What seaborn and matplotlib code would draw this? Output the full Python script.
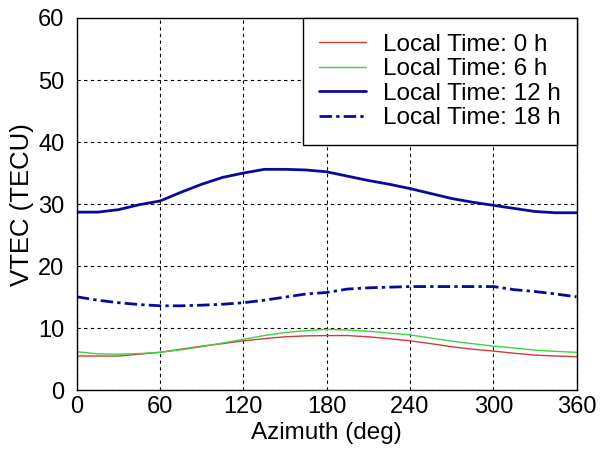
import numpy as np
import pandas as pd
import matplotlib
matplotlib.use("Agg")
import matplotlib.pyplot as plt
import seaborn as sns

sns.set_theme(style="white")
plt.rcParams['font.family'] = ['Liberation Sans', 'DejaVu Sans']
plt.rcParams['text.color'] = 'black'
plt.rcParams['axes.labelcolor'] = 'black'

# azimuth in degrees, VTEC (TECU)
azimuth = [0, 15, 30, 45, 60, 75, 90, 105, 120, 135, 150, 165, 180,
           195, 210, 225, 240, 255, 270, 285, 300, 315, 330, 345, 360]
vtec_lt0 = [5.5, 5.5, 5.5, 5.8, 6.1, 6.6, 7.1, 7.5, 7.95, 8.3, 8.6, 8.75, 8.8,
            8.8, 8.6, 8.3, 7.95, 7.5, 7.0, 6.6, 6.3, 5.95, 5.65, 5.5, 5.4]
vtec_lt6 = [6.2, 5.85, 5.8, 5.9, 6.1, 6.5, 7.0, 7.6, 8.2, 8.8, 9.3, 9.6, 9.8,
            9.7, 9.5, 9.2, 8.9, 8.4, 7.9, 7.5, 7.1, 6.8, 6.45, 6.25, 6.1]
vtec_lt12 = [28.7, 28.7, 29.1, 29.9, 30.5, 31.9, 33.2, 34.3, 35.0, 35.6, 35.6, 35.5, 35.2,
             34.5, 33.8, 33.2, 32.5, 31.7, 30.9, 30.3, 29.8, 29.3, 28.8, 28.6, 28.6]
vtec_lt18 = [15.05, 14.5, 14.1, 13.8, 13.6, 13.6, 13.7, 13.85, 14.1, 14.5, 15.0, 15.5, 15.75,
             16.3, 16.5, 16.6, 16.7, 16.7, 16.7, 16.7, 16.7, 16.2, 15.9, 15.5, 15.05]

labels = ['Local Time: 0 h', 'Local Time: 6 h', 'Local Time: 12 h', 'Local Time: 18 h']
series = [vtec_lt0, vtec_lt6, vtec_lt12, vtec_lt18]
colors = ['#d03a3a', '#3fd33f', '#0a0a9a', '#0a0a9a']
widths = [1.0, 1.0, 2.0, 2.0]
styles = ['-', '-', '-', (0, (4.5, 1.5, 1.2, 1.5))]

fig = plt.figure(figsize=(6, 4.5), dpi=100)
ax = fig.add_axes([0.128, 0.133, 0.833, 0.827])

for lab, vals, c, lw, ls in zip(labels, series, colors, widths, styles):
    df = pd.DataFrame({'az': azimuth, 'vtec': vals})
    sns.lineplot(data=df, x='az', y='vtec', ax=ax, color=c, linewidth=lw,
                 linestyle=ls, label=lab)

ax.set_xlim(0, 360)
ax.set_ylim(0, 60)
ax.set_xticks(range(0, 361, 60))
ax.set_yticks(range(0, 61, 10))
ax.grid(True, color='black', linestyle=(0, (3, 3)), linewidth=0.8)
ax.tick_params(direction='in', length=4, labelsize=17, colors='black')
ax.tick_params(axis='x', pad=4)
ax.tick_params(axis='y', pad=9)
for s in ax.spines.values():
    s.set_color('black')
    s.set_linewidth(1)
ax.set_xlabel('Azimuth (deg)', fontsize=17.5, labelpad=3)
ax.set_ylabel('VTEC (TECU)', fontsize=18.5, labelpad=3)

leg = ax.legend(loc='upper right', fontsize=17.5, frameon=True,
                fancybox=False, edgecolor='black', framealpha=1,
                borderpad=0.65, labelspacing=0.1, handlelength=1.95,
                handletextpad=0.7, borderaxespad=0)
leg.get_frame().set_linewidth(1)

fig.savefig('out.png', dpi=100)
